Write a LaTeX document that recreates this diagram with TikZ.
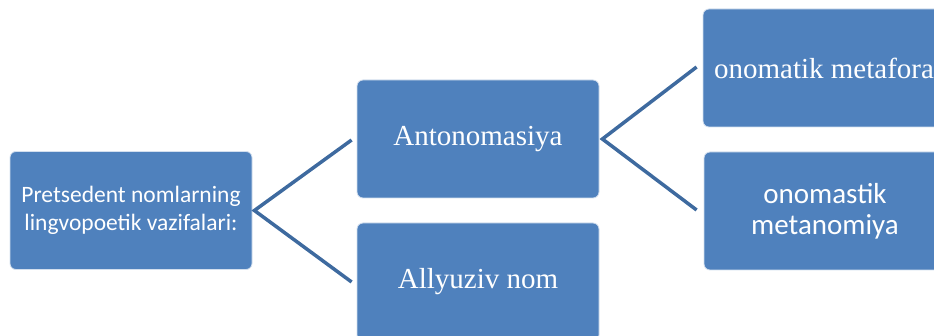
\documentclass[tikz,border=0pt]{standalone}
\usepackage{fontspec}
\setmainfont{Liberation Serif}
\newfontfamily\calibrifont{Carlito}
\usetikzlibrary{calc}
\definecolor{boxblue}{HTML}{4F81BD}
\definecolor{linkblue}{HTML}{3E6A9F}
\begin{document}
\begin{tikzpicture}[x=1pt,y=-1pt,
  box/.style={draw=white!75!boxblue, line width=0.8pt, fill=boxblue, rounded corners=6pt,
    text=white, minimum width=242pt, minimum height=118pt, inner sep=0pt, align=center},
  serifbig/.style={font=\fontsize{29}{33}\selectfont},
  sansmid/.style={font=\calibrifont\fontsize{23.5}{28}\selectfont},
  sansbig/.style={font=\calibrifont\fontsize{29}{31}\selectfont},
  link/.style={draw=linkblue, line width=3.5pt, line join=miter}]
\useasboundingbox (0,0) rectangle (934,336);
\begin{scope}
\clip (0,0) rectangle (934,336);
\node[box, sansmid] (P) at (131,210.5) {Pretsedent nomlarning\\lingvopoetik vazifalari:};
\node[box, serifbig] (A) at (478,139) {Antonomasiya};
\node[box, serifbig] (L) at (478,282) {Allyuziv nom};
\node[box, serifbig] (M) at (824,68) {onomatik metafora};
\node[box, sansbig] (N) at (825,211) {onomastik\\metanomiya};
\coordinate (Pt) at ($(P.east)+(2,0)$);
\coordinate (Ain) at ($(A.west)+(-5,1)$);
\coordinate (Lin) at ($(L.west)+(-5,0)$);
\coordinate (At) at ($(A.east)+(3,0)$);
\coordinate (Min) at ($(M.west)+(-6,-1)$);
\coordinate (Nin) at ($(N.west)+(-7,-1)$);
\draw[link] (Ain) -- (Pt) -- (Lin);
\draw[link] (Min) -- (At) -- (Nin);
\end{scope}
\end{tikzpicture}
\end{document}
